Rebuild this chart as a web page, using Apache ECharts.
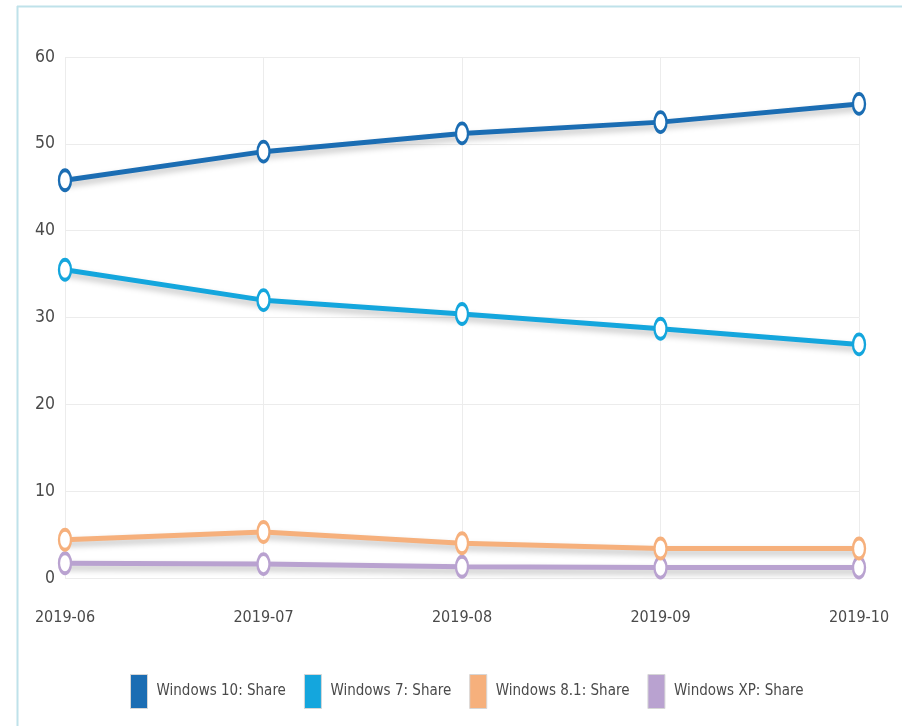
<!DOCTYPE html>
<html>
<head>
<meta charset="utf-8">
<script src="https://cdn.jsdelivr.net/npm/echarts@6/dist/echarts.min.js"></script>
<style>
html,body{margin:0;padding:0;background:#fff;}
#chart{width:902px;height:726px;}
</style>
</head>
<body>
<div id="chart"></div>
<script>
const categories = ['2019-06', '2019-07', '2019-08', '2019-09', '2019-10'];
const seriesNames = ['Windows 10: Share', 'Windows 7: Share', 'Windows 8.1: Share', 'Windows XP: Share'];
const win10 = [45.8, 49.1, 51.2, 52.5, 54.6];
const win7 = [35.5, 32.0, 30.4, 28.7, 26.9];
const win81 = [4.4, 5.3, 4.0, 3.4, 3.4];
const winXP = [1.7, 1.6, 1.3, 1.2, 1.2];
const yTicks = [0, 10, 20, 30, 40, 50, 60];

const colors = ['#1b6db3', '#14a6dd', '#f6b07c', '#b9a2d0'];
const FONT = "'DejaVu Sans Condensed', 'Liberation Sans Narrow', sans-serif";
const dataSets = [win10, win7, win81, winXP];

const chart = echarts.init(document.getElementById('chart'), null, {renderer: 'canvas'});
chart.setOption({
  animation: false,
  backgroundColor: '#fff',
  color: colors,
  graphic: [
    {type: 'line', shape: {x1: 17, y1: 6.5, x2: 902, y2: 6.5}, style: {stroke: '#bfe2ea', lineWidth: 2}},
    {type: 'line', shape: {x1: 17.5, y1: 6, x2: 17.5, y2: 726}, style: {stroke: '#bfe2ea', lineWidth: 2}}
  ],
  grid: {left: 65, right: 43, top: 57, bottom: 148, containLabel: false},
  legend: {
    top: 669,
    left: 125,
    padding: 5,
    itemWidth: 17,
    itemHeight: 34,
    itemGap: 18,
    icon: 'rect',
    textStyle: {fontFamily: FONT, fontSize: 15, color: '#4a4a4a', padding: [0, 0, 0, 4]},
    data: seriesNames.map((n, i) => ({name: n, itemStyle: {color: colors[i], borderColor: '#d6d6d6', borderWidth: 1}}))
  },
  xAxis: {
    type: 'category',
    data: categories,
    boundaryGap: false,
    axisLine: {show: false},
    axisTick: {show: false},
    axisLabel: {fontFamily: FONT, fontSize: 16, color: '#4a4a4a', margin: 32},
    splitLine: {show: true, lineStyle: {color: '#ececec', width: 1}}
  },
  yAxis: {
    type: 'value',
    min: yTicks[0],
    max: yTicks[yTicks.length - 1],
    interval: 10,
    axisLine: {show: false},
    axisTick: {show: false},
    axisLabel: {fontFamily: FONT, fontSize: 17.5, color: '#4a4a4a', margin: 10, padding: [6, 0, 0, 0]},
    splitLine: {show: true, lineStyle: {color: '#ececec', width: 1}}
  },
  series: seriesNames.map((n, i) => ({
    name: n,
    type: 'line',
    data: dataSets[i],
    symbol: 'circle',
    symbolSize: [12, 20],
    z: 10 - i,
    lineStyle: {width: 5, color: colors[i], shadowColor: 'rgba(0,0,0,0.25)', shadowBlur: 6, shadowOffsetY: 4},
    itemStyle: {color: '#fff', borderColor: colors[i], borderWidth: 3}
  }))
});
</script>
</body>
</html>
